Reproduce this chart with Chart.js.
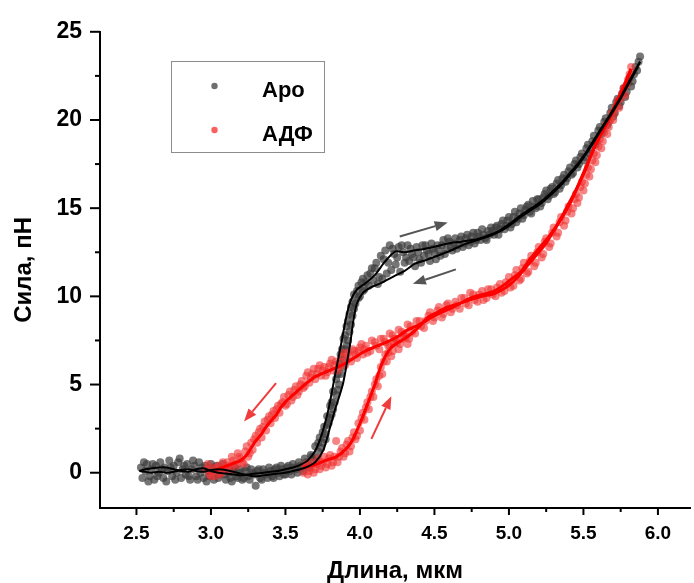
<!DOCTYPE html>
<html><head><meta charset="utf-8">
<script src="https://cdn.jsdelivr.net/npm/chart.js@4.4.1/dist/chart.umd.min.js"></script>
<style>html,body{margin:0;padding:0;background:#fff;}#wrap{width:694px;height:583px;}</style>
</head><body><div id="wrap"><canvas id="c" width="694" height="583"></canvas></div>
<script>
// ---------- DATA ----------
const seriesNames = ['Apo', 'АДФ'];
const xTickValues = [2.5, 3.0, 3.5, 4.0, 4.5, 5.0, 5.5, 6.0];
const xMinorTicks = [2.75, 3.25, 3.75, 4.25, 4.75, 5.25, 5.75];
const yTickValues = [0, 5, 10, 15, 20, 25];
const yMinorTicks = [2.5, 7.5, 12.5, 17.5, 22.5];
const xRange = [2.2553, 6.2153];
const yRange = [-2, 25];
const xTitle = 'Длина, мкм';
const yTitle = 'Сила, пН';

// Apo smoothed curves
const apoExtLine = [[2.52,0.1],[2.56,0.2],[2.60,0.25],[2.65,0.3],[2.70,0.3],[2.75,0.2],[2.80,0.1],[2.85,0.05],[2.90,0.2],[2.95,0.25],[3.00,0.1],[3.05,0.0],[3.10,-0.05],[3.15,-0.1],[3.20,-0.15],[3.25,-0.1],[3.30,-0.05],[3.35,0.0],[3.40,0.05],[3.45,0.1],[3.50,0.2],[3.55,0.3],[3.60,0.45],[3.65,0.7],[3.70,1.25],[3.745,2.2],[3.79,3.65],[3.83,5.4],[3.876,7.4],[3.91,8.9],[3.94,9.8],[3.98,10.4],[4.03,10.7],[4.10,11.2],[4.17,12.0],[4.24,12.55],[4.30,12.5],[4.36,12.6],[4.44,12.7],[4.52,12.85],[4.59,13.0],[4.68,13.1],[4.79,13.25],[4.86,13.45],[4.92,13.65],[5.00,14.1],[5.08,14.6],[5.15,15.0],[5.22,15.4],[5.30,16.0],[5.36,16.5],[5.41,17.0],[5.47,17.6],[5.52,18.2],[5.58,19.0],[5.64,19.8],[5.70,20.6],[5.75,21.3],[5.80,22.1],[5.84,22.7],[5.88,23.3]];
const apoRetLine = [[5.88,23.3],[5.84,22.6],[5.80,22.0],[5.75,21.2],[5.70,20.5],[5.64,19.7],[5.58,18.9],[5.52,18.1],[5.47,17.5],[5.41,16.9],[5.36,16.4],[5.30,15.9],[5.22,15.3],[5.15,14.9],[5.08,14.5],[5.00,14.0],[4.92,13.6],[4.83,13.3],[4.75,13.1],[4.70,12.95],[4.61,12.6],[4.52,12.3],[4.44,12.05],[4.37,11.85],[4.30,11.45],[4.23,11.15],[4.14,10.75],[4.07,10.5],[4.02,10.2],[3.98,9.6],[3.955,8.6],[3.936,7.4],[3.91,6.1],[3.885,5.0],[3.86,4.3],[3.835,3.65],[3.80,2.6],[3.755,1.3],[3.70,0.6],[3.65,0.35],[3.60,0.2],[3.55,0.1],[3.50,0.0],[3.45,-0.05],[3.40,-0.1],[3.35,-0.15],[3.30,-0.2],[3.25,-0.15],[3.20,-0.05],[3.15,0.05],[3.10,0.15],[3.05,0.2],[3.00,0.15],[2.95,0.05],[2.90,0.1],[2.85,0.2],[2.80,0.15],[2.75,0.05],[2.70,0.0],[2.65,0.05],[2.60,0.0],[2.56,0.05],[2.52,0.1]];

// АДФ smoothed curves
const adfExtLine = [[3.62,0.3],[3.70,0.45],[3.77,0.7],[3.84,0.9],[3.90,1.3],[3.94,1.7],[3.98,2.4],[4.02,3.2],[4.06,4.1],[4.10,5.0],[4.13,5.8],[4.17,6.6],[4.21,7.1],[4.25,7.35],[4.30,7.6],[4.34,7.85],[4.40,8.3],[4.455,8.8],[4.52,9.1],[4.59,9.4],[4.67,9.6],[4.74,9.8],[4.82,10.0],[4.90,10.15],[4.96,10.4],[5.01,10.7],[5.06,11.1],[5.12,11.7],[5.18,12.3],[5.24,12.9],[5.30,13.7],[5.36,14.6],[5.41,15.4],[5.46,16.2],[5.52,17.3],[5.56,18.2],[5.61,19.1],[5.66,19.9],[5.70,20.6],[5.77,21.9],[5.82,22.9]];
const adfRetLine = [[5.82,22.9],[5.77,21.8],[5.70,20.5],[5.65,19.7],[5.60,18.9],[5.55,18.0],[5.50,17.0],[5.44,15.8],[5.38,14.8],[5.32,14.0],[5.26,13.3],[5.20,12.7],[5.14,12.1],[5.08,11.4],[5.02,11.0],[4.96,10.6],[4.90,10.3],[4.82,10.1],[4.74,9.9],[4.63,9.4],[4.55,9.1],[4.48,8.8],[4.40,8.4],[4.32,8.1],[4.25,7.7],[4.19,7.45],[4.12,7.2],[4.035,6.9],[3.96,6.5],[3.88,6.1],[3.81,5.85],[3.74,5.6],[3.70,5.45],[3.66,5.2],[3.63,5.0],[3.59,4.7],[3.55,4.4],[3.51,4.1],[3.47,3.7],[3.44,3.3],[3.40,2.9],[3.37,2.6],[3.34,2.2],[3.30,1.8],[3.27,1.4],[3.24,1.0],[3.20,0.7],[3.14,0.5],[3.08,0.3],[3.03,0.15],[2.99,0.1]];

// measured points (scatter), two passes each
const apoDots = [[2.53,0.3],[2.54,-0.3],[2.56,0.1],[2.57,0.5],[2.59,-0.2],[2.60,0.2],[2.62,-0.4],[2.63,0.4],[2.65,0.0],[2.66,0.6],[2.68,-0.3],[2.69,0.3],[2.71,0.1],[2.72,0.7],[2.74,-0.2],[2.75,0.4],[2.77,0.0],[2.78,0.6],[2.80,-0.3],[2.81,0.2],[2.83,-0.1],[2.84,0.5],[2.86,-0.4],[2.87,0.2],[2.89,0.4],[2.90,-0.2],[2.92,0.6],[2.93,0.0],[2.95,-0.3],[2.96,0.4],[2.98,0.1],[2.99,-0.2],[3.01,0.3],[3.03,0.0],[3.05,-0.3],[3.07,0.2],[3.09,-0.1],[3.11,0.3],[3.13,-0.3],[3.15,0.1],[3.17,-0.2],[3.19,0.2],[3.21,-0.4],[3.23,0.1],[3.25,-0.2],[3.27,0.2],[3.30,-0.74],[3.29,-0.1],[3.31,0.1],[3.33,-0.3],[3.35,0.2],[3.37,-0.1],[3.39,0.3],[3.41,-0.2],[3.43,0.2],[3.45,0.0],[3.47,0.4],[3.49,-0.1],[3.51,0.3],[3.53,0.1],[3.55,0.5],[3.57,0.2],[3.59,0.6],[3.61,0.3],[3.63,0.8],[3.65,0.5],[3.67,1.0],[3.69,0.7],[3.70,1.5],[3.72,1.2],[3.73,2.0],[3.75,1.7],[3.76,2.6],[3.77,2.2],[3.78,3.2],[3.79,2.8],[3.80,3.8],[3.81,3.3],[3.82,4.6],[3.83,4.0],[3.84,5.3],[3.85,4.7],[3.86,6.2],[3.87,5.6],[3.88,7.0],[3.89,6.4],[3.90,7.8],[3.91,7.2],[3.92,8.6],[3.93,8.0],[3.94,9.4],[3.95,8.9],[3.96,10.1],[3.97,9.6],[3.99,10.6],[4.00,10.0],[4.02,11.0],[4.03,10.4],[4.05,11.2],[4.06,10.6],[4.08,11.6],[4.09,10.9],[4.11,11.9],[4.12,10.7],[4.14,12.3],[4.15,11.0],[4.17,12.6],[4.18,11.3],[4.20,12.9],[4.21,11.5],[4.23,12.4],[4.24,11.8],[4.26,12.8],[4.27,11.4],[4.29,12.5],[4.30,11.9],[4.32,12.9],[4.33,12.0],[4.35,12.4],[4.37,11.7],[4.38,12.8],[4.40,12.1],[4.42,12.9],[4.43,12.3],[4.45,12.6],[4.47,12.0],[4.48,13.0],[4.50,12.5],[4.52,12.9],[4.54,12.3],[4.56,13.2],[4.58,12.7],[4.60,13.1],[4.62,12.6],[4.64,13.3],[4.66,12.9],[4.68,13.4],[4.70,13.0],[4.72,13.5],[4.74,13.1],[4.76,13.6],[4.78,13.2],[4.80,13.4],[4.82,13.8],[4.84,13.3],[4.86,13.7],[4.88,13.9],[4.90,13.5],[4.92,14.0],[4.94,13.8],[4.96,14.3],[4.98,14.0],[5.00,14.5],[5.02,14.1],[5.04,14.8],[5.06,14.4],[5.08,15.0],[5.10,14.6],[5.12,15.1],[5.14,14.8],[5.16,15.4],[5.18,15.0],[5.20,15.5],[5.22,15.3],[5.24,15.8],[5.26,15.5],[5.28,16.1],[5.30,15.8],[5.32,16.4],[5.34,16.1],[5.36,16.7],[5.38,16.5],[5.40,17.1],[5.42,16.9],[5.44,17.5],[5.46,17.3],[5.48,17.9],[5.50,17.7],[5.52,18.4],[5.54,18.1],[5.56,18.8],[5.58,18.6],[5.60,19.4],[5.62,19.2],[5.64,19.9],[5.66,19.7],[5.68,20.4],[5.70,20.2],[5.72,21.0],[5.74,20.8],[5.76,21.5],[5.78,21.3],[5.80,22.1],[5.82,21.9],[5.84,22.6],[5.86,22.8],[5.87,23.3],[5.88,23.6],
[2.55,0.6],[2.58,-0.5],[2.61,0.5],[2.64,-0.2],[2.67,0.2],[2.70,-0.5],[2.73,0.3],[2.76,-0.4],[2.79,0.8],[2.82,0.4],[2.85,-0.2],[2.88,0.7],[2.91,-0.4],[2.94,0.3],[2.97,-0.5],[3.00,0.5],[3.02,-0.4],[3.04,0.4],[3.06,-0.1],[3.08,0.5],[3.10,-0.4],[3.12,0.0],[3.14,-0.5],[3.16,0.3],[3.18,-0.3],[3.20,0.0],[3.22,-0.3],[3.24,0.3],[3.26,-0.4],[3.28,0.0],[3.32,0.2],[3.34,-0.4],[3.36,0.0],[3.38,-0.3],[3.40,0.1],[3.42,-0.3],[3.44,0.3],[3.46,-0.2],[3.48,0.2],[3.50,-0.1],[3.52,0.4],[3.54,-0.1],[3.56,0.3],[3.58,0.0],[3.60,0.4],[3.62,0.1],[3.64,0.6],[3.66,0.3],[3.68,0.9],[3.71,0.8],[3.72,1.7],[3.74,1.4],[3.75,2.3],[3.77,1.9],[3.78,2.7],[3.80,3.1],[3.81,4.0],[3.82,3.6],[3.84,4.4],[3.85,5.6],[3.86,5.0],[3.87,6.7],[3.88,6.0],[3.89,7.6],[3.90,7.0],[3.91,8.3],[3.92,7.5],[3.93,9.0],[3.94,8.4],[3.95,9.7],[3.96,9.3],[3.98,10.3],[3.99,9.9],[4.01,10.8],[4.02,10.3],[4.04,10.8],[4.07,11.3],[4.10,11.6],[4.13,11.1],[4.16,12.1],[4.19,11.9],[4.22,12.7],[4.25,12.2],[4.28,12.9],[4.31,12.2],[4.34,12.7],[4.36,12.2],[4.39,12.5],[4.41,11.9],[4.44,12.9],[4.46,12.4],[4.49,12.7],[4.51,12.1],[4.53,12.6],[4.55,12.9],[4.57,12.4],[4.59,13.3],[4.61,12.8],[4.63,13.0],[4.65,12.7],[4.67,13.2],[4.69,12.8],[4.71,13.3],[4.73,12.9],[4.75,13.4],[4.77,13.0],[4.79,13.6],[4.81,13.2],[4.83,13.5],[4.85,13.2],[4.87,13.5],[4.89,13.7],[4.91,13.9],[4.93,13.5],[4.95,14.1],[4.97,13.8],[4.99,14.3],[5.01,13.9],[5.03,14.5],[5.05,14.2],[5.07,14.7],[5.09,14.4],[5.11,14.9],[5.13,15.2],[5.15,14.7],[5.17,15.1],[5.19,15.5],[5.21,15.1],[5.23,15.6],[5.25,16.0],[5.27,15.7],[5.29,16.2],[5.31,15.9],[5.33,16.6],[5.35,16.3],[5.37,16.9],[5.39,16.7],[5.41,17.3],[5.43,17.0],[5.45,17.7],[5.47,17.5],[5.49,18.1],[5.51,17.9],[5.53,18.6],[5.55,18.3],[5.57,19.1],[5.59,18.8],[5.61,19.6],[5.63,19.4],[5.65,20.1],[5.67,19.9],[5.69,20.7],[5.71,20.4],[5.73,21.2],[5.75,21.0],[5.77,21.8],[5.79,21.6],[5.81,22.4],[5.83,22.2],[5.85,23.0]];
const adfDots = [[2.97,0.2],[2.99,-0.1],[3.01,0.3],[3.03,-0.2],[3.05,0.4],[3.07,0.0],[3.09,0.3],[3.11,0.6],[3.13,0.2],[3.15,0.7],[3.17,0.4],[3.19,0.9],[3.21,0.6],[3.23,1.2],[3.25,0.9],[3.27,1.7],[3.28,1.3],[3.30,2.1],[3.31,1.7],[3.33,2.5],[3.34,2.0],[3.36,2.9],[3.37,2.4],[3.39,3.2],[3.40,2.8],[3.42,3.5],[3.43,3.1],[3.45,3.8],[3.46,3.4],[3.48,4.0],[3.50,3.8],[3.52,4.4],[3.54,4.1],[3.56,4.7],[3.58,4.4],[3.60,5.0],[3.62,4.8],[3.64,5.5],[3.66,5.1],[3.68,5.6],[3.70,5.3],[3.72,5.9],[3.74,5.5],[3.76,6.0],[3.78,5.7],[3.80,6.2],[3.82,5.8],[3.84,6.3],[3.86,6.0],[3.88,6.6],[3.90,6.1],[3.92,6.8],[3.94,6.3],[3.96,6.9],[3.98,6.5],[4.00,7.1],[4.02,6.7],[4.04,7.2],[4.07,6.9],[4.10,7.4],[4.13,7.0],[4.16,7.6],[4.19,7.2],[4.22,7.8],[4.25,7.4],[4.28,8.0],[4.31,7.7],[4.34,8.3],[4.37,7.9],[4.40,8.6],[4.43,8.2],[4.46,8.9],[4.49,8.6],[4.52,9.2],[4.55,8.8],[4.58,9.5],[4.61,9.1],[4.64,9.7],[4.67,9.3],[4.70,9.9],[4.73,9.5],[4.76,10.1],[4.79,9.7],[4.82,10.3],[4.85,9.9],[4.88,10.4],[4.91,10.0],[4.94,10.7],[4.97,10.3],[5.00,11.1],[5.03,10.6],[5.05,11.5],[5.08,11.0],[5.10,11.9],[5.13,11.4],[5.15,12.3],[5.18,11.9],[5.20,12.8],[5.23,12.4],[5.25,13.3],[5.28,13.0],[5.30,13.9],[5.33,13.6],[5.35,14.5],[5.38,14.3],[5.40,15.1],[5.43,15.0],[5.45,15.8],[5.47,15.6],[5.49,16.5],[5.51,16.4],[5.53,17.3],[5.55,17.2],[5.57,18.1],[5.59,18.0],[5.61,18.9],[5.63,18.8],[5.65,19.7],[5.67,19.6],[5.69,20.4],[5.71,20.4],[5.73,21.1],[5.75,21.2],[5.77,21.8],[5.79,22.0],[5.81,22.6],[5.82,23.0],[3.62,0.0],[3.64,0.5],[3.66,0.1],[3.68,0.6],[3.70,0.2],[3.72,0.8],[3.74,0.4],[3.76,0.9],[3.78,0.5],[3.80,1.0],[3.82,0.6],[3.84,1.8],[3.86,0.9],[3.88,1.4],[3.90,1.1],[3.92,1.8],[3.94,1.5],[3.96,2.3],[3.97,1.9],[3.99,2.8],[4.00,2.4],[4.02,3.4],[4.03,3.0],[4.05,4.0],[4.06,3.6],[4.08,4.6],[4.09,4.3],[4.11,5.3],[4.12,4.9],[4.14,6.0],[4.15,5.6],[4.17,6.7],[4.18,6.3],[4.20,7.2],[4.22,6.9],[4.24,7.6],[4.27,7.3],[4.30,7.9],[4.33,7.6],
[2.98,0.5],[3.00,-0.2],[3.02,0.1],[3.04,0.3],[3.06,-0.1],[3.08,0.6],[3.10,0.2],[3.12,0.4],[3.14,0.9],[3.16,0.5],[3.18,1.1],[3.20,0.8],[3.22,0.5],[3.24,1.5],[3.26,1.1],[3.29,1.9],[3.32,2.3],[3.35,2.6],[3.38,3.0],[3.41,3.3],[3.44,3.6],[3.47,3.9],[3.49,4.3],[3.51,3.9],[3.53,4.6],[3.55,4.3],[3.57,4.9],[3.59,4.6],[3.61,5.2],[3.63,4.9],[3.65,5.7],[3.67,5.4],[3.69,5.9],[3.71,5.6],[3.73,6.1],[3.75,5.8],[3.77,5.5],[3.79,6.0],[3.81,6.4],[3.83,6.1],[3.85,5.8],[3.87,6.3],[3.89,6.8],[3.91,6.4],[3.93,6.6],[3.95,7.0],[3.97,6.7],[3.99,6.9],[4.01,7.3],[4.03,7.0],[4.05,6.8],[4.08,7.5],[4.11,7.2],[4.14,7.6],[4.17,7.4],[4.20,7.9],[4.23,7.6],[4.26,8.1],[4.29,7.8],[4.32,8.4],[4.35,8.0],[4.38,8.6],[4.41,8.3],[4.44,8.6],[4.47,9.1],[4.50,8.8],[4.53,9.4],[4.56,9.0],[4.59,9.6],[4.62,9.3],[4.65,9.5],[4.68,9.9],[4.71,9.6],[4.74,10.2],[4.77,9.8],[4.80,10.1],[4.83,9.8],[4.86,10.4],[4.89,10.1],[4.92,10.5],[4.95,10.2],[4.98,10.8],[5.01,10.5],[5.04,11.2],[5.07,10.9],[5.09,11.6],[5.12,11.3],[5.14,12.0],[5.17,11.7],[5.19,12.5],[5.22,12.2],[5.24,13.1],[5.27,12.8],[5.29,13.6],[5.32,13.4],[5.34,14.2],[5.37,14.0],[5.39,14.8],[5.42,14.7],[5.44,15.5],[5.46,15.3],[5.48,16.2],[5.50,16.0],[5.52,16.9],[5.54,16.8],[5.56,17.7],[5.58,17.6],[5.60,18.5],[5.62,18.4],[5.64,19.3],[5.66,19.2],[5.68,20.0],[5.70,20.0],[5.72,20.8],[5.74,20.7],[5.76,21.5],[5.78,21.4],[5.80,22.3],[3.63,0.4],[3.65,-0.1],[3.67,0.3],[3.69,0.0],[3.71,0.5],[3.73,0.2],[3.75,0.6],[3.77,0.3],[3.79,0.8],[3.81,0.4],[3.83,0.9],[3.85,0.6],[3.87,1.2],[3.89,0.9],[3.91,1.6],[3.93,1.2],[3.95,2.0],[3.98,2.1],[4.01,3.1],[4.04,3.7],[4.07,4.3],[4.10,5.0],[4.13,5.5],[4.16,6.3],[4.19,6.8],[4.21,6.6],[4.23,7.3],[4.26,7.0],[4.29,7.6],[4.32,7.3]];

// direction arrows: [tailX, tailY, headX, headY] in data units
const apoArrows = [[4.267,13.39,4.589,14.19],[4.644,11.53,4.355,10.71]];
const adfArrows = [[3.437,5.08,3.222,2.90],[4.077,1.92,4.211,4.34]];

// ---------- CHART ----------
const toXY = a => a.map(p => ({x: p[0], y: p[1]}));
const FONT = "'Liberation Sans', Arial, sans-serif";
const GRAY_DOT = 'rgba(60,60,60,0.7)';
const RED_DOT = 'rgba(240,50,50,0.6)';

const tickPlugin = {
  id: 'tickMarks',
  afterDraw(chart) {
    const {ctx, scales: {x, y}} = chart;
    ctx.save();
    ctx.strokeStyle = '#000';
    ctx.lineWidth = 2;
    const seg = (x1, y1, x2, y2) => { ctx.beginPath(); ctx.moveTo(x1, y1); ctx.lineTo(x2, y2); ctx.stroke(); };
    xTickValues.forEach(v => { const p = x.getPixelForValue(v); seg(p, x.top, p, x.top + 7); });
    xMinorTicks.forEach(v => { const p = x.getPixelForValue(v); seg(p, x.top, p, x.top + 4); });
    yTickValues.forEach(v => { const p = y.getPixelForValue(v); seg(y.right - 10, p, y.right, p); });
    yMinorTicks.forEach(v => { const p = y.getPixelForValue(v); seg(y.right - 5, p, y.right, p); });
    ctx.restore();
  }
};

const arrowPlugin = {
  id: 'arrows',
  afterDatasetsDraw(chart) {
    const {ctx, scales: {x, y}} = chart;
    const draw = (a, color) => {
      const x1 = x.getPixelForValue(a[0]), y1 = y.getPixelForValue(a[1]);
      const x2 = x.getPixelForValue(a[2]), y2 = y.getPixelForValue(a[3]);
      const ang = Math.atan2(y2 - y1, x2 - x1);
      const hl = 13, hw = 5;
      const bx = x2 - hl * Math.cos(ang), by = y2 - hl * Math.sin(ang);
      ctx.save();
      ctx.strokeStyle = color; ctx.fillStyle = color; ctx.lineWidth = 2;
      ctx.beginPath(); ctx.moveTo(x1, y1); ctx.lineTo(bx, by); ctx.stroke();
      ctx.beginPath();
      ctx.moveTo(x2, y2);
      ctx.lineTo(bx + hw * Math.sin(ang), by - hw * Math.cos(ang));
      ctx.lineTo(bx - hw * Math.sin(ang), by + hw * Math.cos(ang));
      ctx.closePath(); ctx.fill();
      ctx.restore();
    };
    apoArrows.forEach(a => draw(a, '#555555'));
    adfArrows.forEach(a => draw(a, '#f03c3c'));
  }
};

const legendPlugin = {
  id: 'boxLegend',
  afterDraw(chart) {
    const ctx = chart.ctx;
    ctx.save();
    ctx.strokeStyle = '#8c8c8c'; ctx.lineWidth = 1;
    ctx.strokeRect(171.5, 61.5, 153, 91);
    const items = [{name: seriesNames[0], color: 'rgba(110,110,110,1)', y: 86},
                   {name: seriesNames[1], color: 'rgba(250,95,95,1)', y: 130}];
    items.forEach(it => {
      ctx.fillStyle = it.color;
      ctx.beginPath(); ctx.arc(214.5, it.y, 3.2, 0, Math.PI * 2); ctx.fill();
      ctx.fillStyle = '#000';
      ctx.font = "bold 22px " + FONT;
      ctx.textBaseline = 'alphabetic'; ctx.textAlign = 'left';
      ctx.fillText(it.name, 262, it.y + 11);
    });
    ctx.restore();
  }
};

new Chart(document.getElementById('c'), {
  type: 'scatter',
  data: {
    datasets: [
      {label: seriesNames[0] + ' dots', data: toXY(apoDots), backgroundColor: GRAY_DOT, borderWidth: 0, pointRadius: 4, order: 5},
      {label: seriesNames[1] + ' dots', data: toXY(adfDots), backgroundColor: RED_DOT, borderWidth: 0, pointRadius: 4, order: 4},
      {label: seriesNames[1] + ' ext', data: toXY(adfExtLine), showLine: true, borderColor: '#ff0000', borderWidth: 3, pointRadius: 0, tension: 0.25, order: 3},
      {label: seriesNames[1] + ' ret', data: toXY(adfRetLine), showLine: true, borderColor: '#ff0000', borderWidth: 3, pointRadius: 0, tension: 0.25, order: 3},
      {label: seriesNames[0] + ' ext', data: toXY(apoExtLine), showLine: true, borderColor: '#000000', borderWidth: 2, pointRadius: 0, tension: 0.25, order: 1},
      {label: seriesNames[0] + ' ret', data: toXY(apoRetLine), showLine: true, borderColor: '#000000', borderWidth: 2, pointRadius: 0, tension: 0.25, order: 1}
    ]
  },
  options: {
    responsive: false, devicePixelRatio: 1, animation: false,
    layout: {padding: {top: 25, left: 0, right: 0, bottom: 0}},
    plugins: {legend: {display: false}, tooltip: {enabled: false}},
    scales: {
      x: {
        type: 'linear', position: 'bottom', min: xRange[0], max: xRange[1],
        afterBuildTicks: s => { s.ticks = xTickValues.map(v => ({value: v})); },
        afterFit: s => { s.height = 75; },
        grid: {display: false, drawTicks: false},
        border: {display: true, color: '#000', width: 2},
        ticks: {color: '#000', padding: 14, maxRotation: 0, autoSkip: false,
                font: {family: FONT, weight: 'bold', size: 19},
                callback: v => v.toFixed(1)},
        title: {display: true, text: xTitle, color: '#000', padding: {top: 0, bottom: 0},
                font: {family: FONT, weight: 'bold', size: 24, lineHeight: 1}}
      },
      y: {
        type: 'linear', position: 'left', min: yRange[0], max: yRange[1],
        afterBuildTicks: s => { s.ticks = yTickValues.map(v => ({value: v})); },
        afterFit: s => { s.width = 100; },
        grid: {display: false, drawTicks: false},
        border: {display: true, color: '#000', width: 2},
        ticks: {color: '#000', padding: 18, autoSkip: false,
                font: {family: FONT, weight: 'bold', size: 23},
                callback: v => String(v)},
        title: {display: true, text: yTitle, color: '#000', padding: {top: 12, bottom: 0},
                font: {family: FONT, weight: 'bold', size: 24, lineHeight: 1}}
      }
    }
  },
  plugins: [tickPlugin, arrowPlugin, legendPlugin]
});
</script></body></html>
